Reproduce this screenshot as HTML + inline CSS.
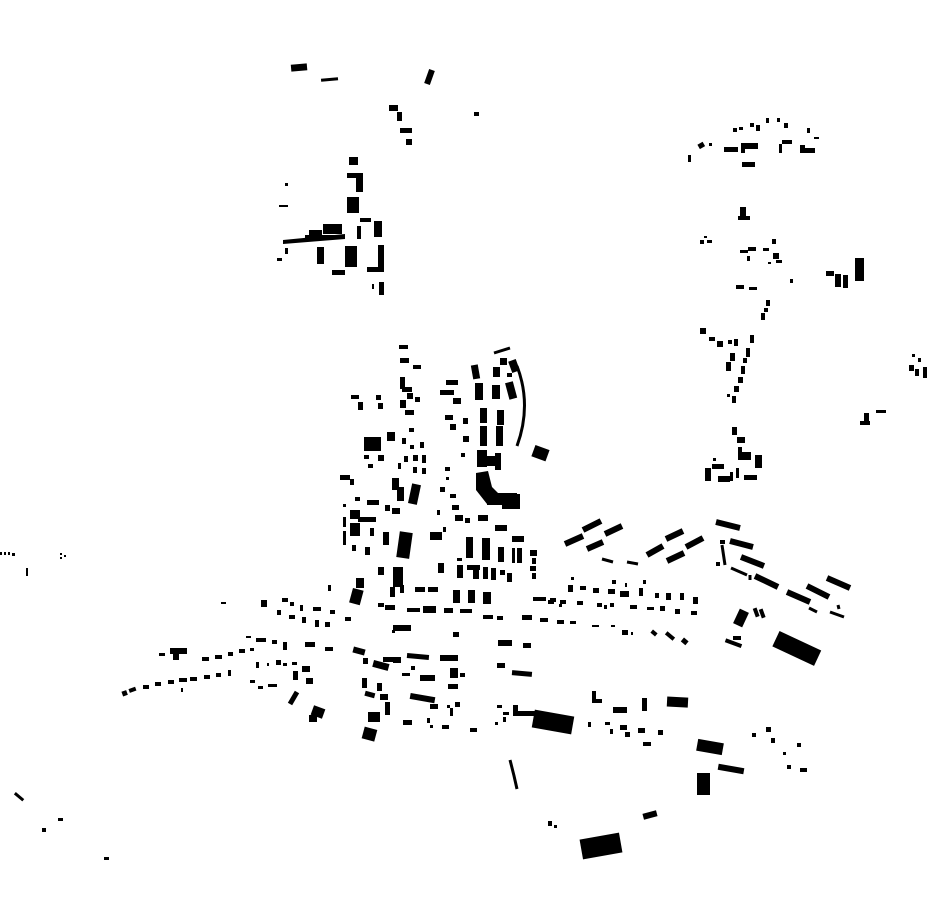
<!DOCTYPE html>
<html><head><meta charset="utf-8"><style>html,body{margin:0;padding:0;background:#fff}svg{display:block}</style></head>
<body>
<svg width="930" height="924" viewBox="0 0 930 924" xmlns="http://www.w3.org/2000/svg">
<g fill="#000">
<!-- top -->
<rect x="291" y="64" width="16" height="7" transform="rotate(-5 299 67)"/>
<rect x="321" y="78" width="17" height="3" transform="rotate(-5 329 79)"/>
<rect x="389" y="105" width="9" height="6"/><rect x="397" y="112" width="5" height="9"/>
<rect x="400" y="128" width="12" height="5"/><rect x="406" y="139" width="6" height="6"/>
<rect x="474" y="112" width="5" height="4"/>
<!-- NW cluster -->
<rect x="349" y="157" width="9" height="8"/>
<rect x="347" y="173" width="16" height="5"/><rect x="356" y="173" width="7" height="19"/>
<rect x="347" y="197" width="12" height="16"/>
<rect x="360" y="218" width="11" height="4"/>
<rect x="357" y="226" width="4" height="13"/>
<rect x="374" y="221" width="8" height="16"/>
<polygon points="283,240 345,234 345,239 283,244"/>
<rect x="309" y="230" width="13" height="7"/><rect x="323" y="224" width="19" height="10"/>
<rect x="305" y="235" width="40" height="4"/>
<rect x="317" y="247" width="7" height="17"/>
<rect x="345" y="246" width="12" height="21"/>
<rect x="332" y="270" width="13" height="5"/>
<rect x="378" y="245" width="6" height="25"/><rect x="367" y="267" width="17" height="5"/>
<rect x="379" y="282" width="5" height="13"/><rect x="372" y="284" width="2" height="5"/>
<rect x="285" y="183" width="3" height="3"/><rect x="279" y="205" width="9" height="2"/>
<rect x="277" y="258" width="5" height="3"/><rect x="285" y="248" width="3" height="6"/>
<line x1="432" y1="70" x2="427" y2="84" stroke="#000" stroke-width="6"/>
<!-- NE cluster -->
<rect x="733" y="128" width="4" height="4"/><rect x="739" y="127" width="4" height="3"/><rect x="750" y="123" width="4" height="4"/><rect x="756" y="125" width="4" height="6"/><rect x="766" y="118" width="3" height="5"/><rect x="777" y="118" width="3" height="4"/><rect x="784" y="123" width="4" height="5"/>
<rect x="807" y="128" width="3" height="5"/><rect x="814" y="137" width="5" height="2"/>
<rect x="698" y="143" width="6" height="5" transform="rotate(-30 701 145)"/><rect x="709" y="143" width="3" height="3"/>
<rect x="688" y="155" width="3" height="7"/>
<rect x="724" y="147" width="14" height="5"/><rect x="741" y="143" width="17" height="6"/><rect x="741" y="147" width="4" height="6"/>
<rect x="779" y="144" width="3" height="9"/><rect x="782" y="140" width="10" height="4"/>
<rect x="802" y="148" width="13" height="5"/><rect x="800" y="145" width="5" height="8"/>
<rect x="742" y="162" width="13" height="5"/>
<rect x="740" y="207" width="6" height="10"/><rect x="738" y="216" width="12" height="4"/>
<rect x="700" y="240" width="4" height="4"/><rect x="707" y="240" width="5" height="3"/><rect x="704" y="236" width="3" height="2"/>
<rect x="740" y="250" width="8" height="3"/><rect x="748" y="247" width="8" height="4"/><rect x="763" y="248" width="6" height="3"/><rect x="772" y="239" width="4" height="5"/><rect x="773" y="253" width="6" height="6"/><rect x="776" y="260" width="6" height="3"/><rect x="747" y="256" width="3" height="5"/><rect x="768" y="262" width="3" height="2"/>
<rect x="790" y="279" width="3" height="4"/>
<rect x="826" y="271" width="8" height="5"/><rect x="835" y="274" width="6" height="13"/><rect x="843" y="275" width="5" height="13"/><rect x="855" y="258" width="9" height="23"/>
<rect x="736" y="285" width="8" height="4"/><rect x="749" y="287" width="8" height="3"/>
<rect x="766" y="300" width="4" height="6"/><rect x="764" y="308" width="4" height="4"/><rect x="761" y="313" width="4" height="7"/>
<rect x="700" y="328" width="6" height="6"/><rect x="709" y="337" width="6" height="4"/><rect x="717" y="341" width="6" height="6"/><rect x="728" y="340" width="4" height="4"/><rect x="734" y="339" width="4" height="7"/><rect x="730" y="353" width="5" height="8"/><rect x="726" y="362" width="5" height="9"/>
<rect x="750" y="335" width="4" height="8"/><rect x="746" y="348" width="4" height="9"/><rect x="743" y="358" width="4" height="5"/><rect x="741" y="366" width="4" height="8"/><rect x="738" y="377" width="5" height="6"/><rect x="734" y="386" width="5" height="6"/><rect x="732" y="396" width="4" height="7"/><rect x="727" y="394" width="3" height="3"/>
<rect x="912" y="354" width="3" height="3"/><rect x="918" y="358" width="3" height="4"/><rect x="909" y="365" width="5" height="6"/><rect x="915" y="369" width="4" height="7"/><rect x="923" y="367" width="4" height="11"/>
<rect x="864" y="413" width="5" height="12"/><rect x="860" y="421" width="10" height="4"/><rect x="876" y="410" width="10" height="3"/>
<rect x="732" y="427" width="5" height="8"/><rect x="737" y="437" width="8" height="6"/>
<rect x="705" y="468" width="6" height="13"/><rect x="712" y="464" width="12" height="5"/><rect x="738" y="452" width="13" height="8"/><rect x="738" y="447" width="4" height="6"/><rect x="755" y="455" width="7" height="13"/><rect x="730" y="472" width="3" height="9"/><rect x="718" y="476" width="12" height="6"/><rect x="744" y="475" width="13" height="5"/><rect x="736" y="468" width="3" height="10"/><rect x="713" y="458" width="3" height="3"/>
<!-- central north -->
<rect x="399" y="345" width="9" height="4"/>
<rect x="400" y="358" width="9" height="5"/><rect x="413" y="365" width="8" height="4"/>
<rect x="400" y="377" width="5" height="12"/><rect x="402" y="387" width="10" height="5"/>
<rect x="446" y="380" width="12" height="5"/><rect x="440" y="390" width="14" height="5"/><rect x="453" y="398" width="8" height="6"/>
<line x1="494" y1="353" x2="510" y2="348" stroke="#000" stroke-width="3"/>
<rect x="500" y="358" width="7" height="7"/>
<rect x="510" y="360" width="8" height="12" transform="rotate(-20 514 366)"/>
<rect x="472" y="365" width="7" height="14" transform="rotate(-10 475 372)"/>
<rect x="493" y="367" width="7" height="10"/><rect x="507" y="373" width="5" height="4"/>
<rect x="475" y="383" width="8" height="17"/><rect x="492" y="385" width="8" height="14"/>
<rect x="507" y="382" width="8" height="17" transform="rotate(-15 511 390)"/>
<rect x="480" y="408" width="7" height="15"/><rect x="497" y="410" width="7" height="15"/>
<rect x="480" y="426" width="7" height="20"/><rect x="496" y="426" width="7" height="20"/>
<path d="M517 366 Q532 405 517 446" stroke="#000" stroke-width="3" fill="none"/>
<rect x="477" y="450" width="10" height="17"/><rect x="486" y="456" width="10" height="10"/><rect x="495" y="453" width="6" height="17"/>
<polygon points="476,473 488,471 492,487 500,495 499,504 487,504 476,490"/>
<rect x="487" y="493" width="30" height="12"/><rect x="502" y="494" width="18" height="15"/>
<rect x="533" y="447" width="15" height="12" transform="rotate(20 540 453)"/>
<rect x="351" y="395" width="8" height="4"/><rect x="358" y="402" width="5" height="8"/><rect x="376" y="395" width="5" height="5"/><rect x="378" y="403" width="5" height="6"/>
<rect x="400" y="400" width="6" height="8"/><rect x="407" y="393" width="6" height="6"/><rect x="415" y="397" width="5" height="5"/><rect x="405" y="410" width="9" height="5"/>
<rect x="445" y="415" width="8" height="5"/><rect x="450" y="424" width="6" height="6"/><rect x="463" y="418" width="5" height="6"/><rect x="463" y="436" width="6" height="6"/><rect x="461" y="453" width="4" height="4"/>
<rect x="364" y="437" width="17" height="14"/><rect x="387" y="432" width="8" height="9"/>
<rect x="364" y="455" width="5" height="4"/><rect x="368" y="464" width="5" height="4"/><rect x="378" y="455" width="6" height="6"/>
<rect x="402" y="438" width="4" height="6"/><rect x="410" y="445" width="4" height="4"/><rect x="420" y="442" width="4" height="6"/><rect x="404" y="456" width="4" height="6"/><rect x="413" y="455" width="5" height="6"/><rect x="422" y="455" width="4" height="8"/><rect x="413" y="467" width="4" height="6"/><rect x="422" y="468" width="4" height="6"/><rect x="409" y="428" width="5" height="4"/><rect x="398" y="463" width="3" height="6"/>
<rect x="392" y="478" width="7" height="12"/><rect x="397" y="487" width="7" height="14"/>
<rect x="410" y="484" width="9" height="20" transform="rotate(12 414 494)"/>
<rect x="340" y="475" width="10" height="5"/><rect x="350" y="479" width="4" height="6"/>
<rect x="355" y="497" width="5" height="4"/><rect x="367" y="500" width="12" height="5"/><rect x="385" y="505" width="5" height="6"/><rect x="392" y="508" width="8" height="6"/>
<rect x="445" y="467" width="5" height="4"/><rect x="446" y="477" width="3" height="3"/><rect x="440" y="487" width="5" height="5"/><rect x="450" y="494" width="6" height="4"/><rect x="452" y="505" width="7" height="5"/><rect x="437" y="510" width="3" height="5"/><rect x="455" y="515" width="8" height="6"/><rect x="465" y="518" width="5" height="5"/><rect x="478" y="515" width="10" height="6"/><rect x="443" y="527" width="3" height="5"/><rect x="430" y="532" width="12" height="8"/>
<rect x="343" y="504" width="3" height="3"/><rect x="350" y="510" width="10" height="9"/><rect x="358" y="517" width="18" height="5"/>
<rect x="343" y="517" width="3" height="10"/><rect x="350" y="523" width="10" height="13"/><rect x="343" y="531" width="3" height="14"/><rect x="352" y="545" width="4" height="6"/>
<rect x="370" y="528" width="4" height="8"/><rect x="365" y="547" width="5" height="8"/><rect x="383" y="532" width="6" height="13"/>
<rect x="398" y="532" width="13" height="26" transform="rotate(8 404 545)"/>
<rect x="466" y="537" width="7" height="21"/><rect x="482" y="538" width="8" height="22"/><rect x="498" y="547" width="6" height="15"/><rect x="512" y="548" width="3" height="15"/><rect x="517" y="548" width="5" height="15"/>
<rect x="530" y="550" width="7" height="6"/><rect x="532" y="558" width="4" height="6"/><rect x="530" y="566" width="6" height="5"/><rect x="532" y="573" width="4" height="6"/>
<rect x="495" y="525" width="12" height="6"/><rect x="512" y="536" width="12" height="6"/>
<rect x="457" y="558" width="5" height="3"/><rect x="457" y="565" width="6" height="13"/><rect x="467" y="565" width="13" height="5"/><rect x="473" y="570" width="6" height="9"/><rect x="483" y="567" width="5" height="12"/><rect x="491" y="568" width="5" height="12"/><rect x="500" y="570" width="5" height="5"/><rect x="507" y="573" width="5" height="9"/>
<rect x="438" y="563" width="6" height="10"/><rect x="378" y="567" width="6" height="8"/><rect x="393" y="567" width="10" height="20"/>
<rect x="390" y="587" width="5" height="10"/><rect x="400" y="585" width="4" height="8"/>
<rect x="356" y="578" width="8" height="10"/><rect x="351" y="589" width="11" height="15" transform="rotate(15 356 596)"/>
<rect x="328" y="585" width="3" height="6"/>
<rect x="415" y="587" width="10" height="5"/><rect x="428" y="587" width="10" height="5"/>
<rect x="453" y="590" width="7" height="13"/><rect x="468" y="590" width="7" height="13"/><rect x="483" y="592" width="8" height="12"/>
<rect x="378" y="603" width="6" height="4"/><rect x="385" y="605" width="10" height="5"/><rect x="407" y="608" width="13" height="4"/><rect x="423" y="606" width="13" height="7"/><rect x="444" y="608" width="9" height="5"/><rect x="460" y="609" width="12" height="4"/><rect x="483" y="615" width="10" height="4"/><rect x="497" y="616" width="6" height="4"/>
<rect x="522" y="615" width="10" height="5"/><rect x="540" y="618" width="7" height="4"/><rect x="557" y="620" width="7" height="4"/><rect x="570" y="621" width="6" height="3"/><rect x="592" y="625" width="6" height="2"/><rect x="622" y="630" width="6" height="5"/>
<rect x="533" y="597" width="8" height="4"/><rect x="548" y="600" width="6" height="4"/>
<!-- west row -->
<rect x="221" y="602" width="5" height="2"/><rect x="261" y="600" width="6" height="7"/>
<rect x="282" y="598" width="6" height="4"/><rect x="290" y="602" width="4" height="4"/>
<rect x="277" y="610" width="4" height="5"/><rect x="289" y="615" width="6" height="4"/><rect x="300" y="605" width="3" height="6"/><rect x="313" y="607" width="8" height="4"/><rect x="330" y="610" width="5" height="4"/><rect x="345" y="617" width="6" height="4"/>
<rect x="302" y="617" width="4" height="6"/><rect x="315" y="620" width="4" height="7"/><rect x="325" y="622" width="5" height="5"/>
<rect x="159" y="653" width="6" height="3"/><rect x="170" y="648" width="17" height="6"/><rect x="173" y="652" width="6" height="8"/>
<rect x="122" y="691" width="5" height="5" transform="rotate(-20 124 693)"/><rect x="129" y="688" width="7" height="4" transform="rotate(-20 132 690)"/><rect x="143" y="685" width="6" height="4"/><rect x="155" y="682" width="6" height="4"/><rect x="168" y="680" width="6" height="4"/><rect x="179" y="678" width="8" height="4"/><rect x="190" y="677" width="7" height="4"/><rect x="204" y="675" width="6" height="4"/><rect x="216" y="673" width="5" height="4"/><rect x="228" y="670" width="3" height="6"/>
<rect x="181" y="688" width="2" height="4"/>
<rect x="202" y="657" width="7" height="4"/><rect x="215" y="655" width="7" height="4"/><rect x="228" y="652" width="5" height="4"/><rect x="239" y="649" width="6" height="4"/><rect x="250" y="648" width="4" height="3"/>
<rect x="246" y="636" width="5" height="2"/><rect x="256" y="638" width="10" height="4"/><rect x="272" y="640" width="5" height="4"/><rect x="283" y="642" width="4" height="8"/>
<rect x="305" y="642" width="10" height="5"/><rect x="325" y="647" width="8" height="4"/>
<rect x="256" y="662" width="3" height="6"/><rect x="267" y="663" width="2" height="3"/><rect x="276" y="660" width="5" height="5"/><rect x="283" y="663" width="4" height="3"/><rect x="292" y="662" width="5" height="3"/><rect x="293" y="671" width="5" height="9"/><rect x="302" y="666" width="8" height="6"/><rect x="306" y="678" width="7" height="6"/>
<rect x="250" y="680" width="5" height="3"/><rect x="258" y="686" width="5" height="3"/><rect x="268" y="684" width="9" height="3"/>
<line x1="297" y1="692" x2="290" y2="704" stroke="#000" stroke-width="5"/>
<rect x="312" y="707" width="12" height="10" transform="rotate(20 318 712)"/><rect x="309" y="715" width="8" height="7"/>
<rect x="14" y="795" width="11" height="3" transform="rotate(40 19 796)"/>
<rect x="42" y="828" width="4" height="4"/><rect x="58" y="818" width="5" height="3"/><rect x="104" y="857" width="5" height="3"/>
<rect x="0" y="552" width="2" height="3"/><rect x="4" y="552" width="2" height="3"/><rect x="8" y="552" width="2" height="3"/><rect x="12" y="553" width="3" height="3"/>
<rect x="26" y="568" width="2" height="8"/><rect x="60" y="553" width="2" height="2"/><rect x="64" y="555" width="2" height="2"/><rect x="60" y="557" width="2" height="2"/>
<!-- south middle -->
<rect x="393" y="625" width="18" height="6"/><rect x="392" y="630" width="3" height="3"/>
<rect x="453" y="632" width="6" height="5"/>
<rect x="498" y="640" width="14" height="6"/><rect x="523" y="643" width="8" height="5"/>
<rect x="497" y="663" width="8" height="5"/><rect x="512" y="671" width="20" height="5" transform="rotate(5 522 673)"/>
<rect x="407" y="654" width="22" height="5" transform="rotate(5 418 656)"/><rect x="440" y="655" width="18" height="6"/>
<rect x="353" y="648" width="12" height="6" transform="rotate(15 359 651)"/><rect x="363" y="658" width="5" height="6"/>
<rect x="373" y="662" width="16" height="7" transform="rotate(15 381 665)"/><rect x="383" y="657" width="10" height="5"/><rect x="393" y="657" width="8" height="6"/>
<rect x="411" y="666" width="4" height="4"/><rect x="402" y="673" width="8" height="3"/><rect x="420" y="675" width="15" height="6"/>
<rect x="450" y="668" width="8" height="10"/><rect x="460" y="673" width="5" height="4"/><rect x="448" y="684" width="10" height="5"/>
<rect x="362" y="678" width="5" height="10"/><rect x="377" y="683" width="5" height="8"/>
<rect x="365" y="692" width="10" height="5" transform="rotate(15 370 694)"/><rect x="380" y="694" width="8" height="6"/><rect x="385" y="702" width="5" height="13"/>
<rect x="368" y="712" width="12" height="10"/><rect x="363" y="728" width="13" height="12" transform="rotate(15 369 734)"/>
<rect x="410" y="695" width="25" height="6" transform="rotate(10 422 698)"/><rect x="430" y="704" width="8" height="5"/>
<rect x="447" y="705" width="3" height="3"/><rect x="450" y="708" width="3" height="8"/><rect x="455" y="702" width="5" height="5"/>
<rect x="403" y="720" width="9" height="5"/><rect x="427" y="718" width="3" height="5"/><rect x="430" y="725" width="3" height="3"/><rect x="442" y="725" width="7" height="4"/><rect x="470" y="728" width="7" height="4"/>
<rect x="497" y="705" width="5" height="3"/><rect x="503" y="712" width="6" height="3"/><rect x="503" y="717" width="3" height="5"/><rect x="495" y="722" width="3" height="3"/>
<rect x="513" y="705" width="5" height="7"/><rect x="513" y="711" width="22" height="5"/>
<rect x="533" y="713" width="40" height="18" transform="rotate(10 553 722)"/>
<rect x="592" y="691" width="4" height="11"/><rect x="592" y="699" width="10" height="4"/>
<rect x="613" y="707" width="14" height="6"/><rect x="642" y="698" width="5" height="13"/><rect x="667" y="697" width="21" height="10" transform="rotate(3 677 702)"/>
<rect x="588" y="722" width="3" height="5"/><rect x="605" y="722" width="5" height="3"/><rect x="620" y="725" width="7" height="5"/><rect x="610" y="729" width="3" height="5"/><rect x="625" y="732" width="5" height="5"/><rect x="638" y="728" width="7" height="5"/><rect x="658" y="730" width="5" height="5"/><rect x="643" y="742" width="8" height="4"/>
<!-- east row houses -->
<rect x="568" y="585" width="5" height="7"/><rect x="580" y="586" width="6" height="4"/><rect x="593" y="588" width="6" height="5"/><rect x="608" y="589" width="7" height="5"/><rect x="620" y="591" width="9" height="6"/><rect x="639" y="588" width="4" height="8"/><rect x="655" y="593" width="4" height="5"/><rect x="666" y="593" width="5" height="7"/><rect x="680" y="593" width="4" height="7"/><rect x="693" y="597" width="5" height="7"/>
<rect x="571" y="577" width="3" height="3"/><rect x="612" y="580" width="4" height="4"/><rect x="625" y="583" width="2" height="4"/><rect x="643" y="580" width="3" height="4"/>
<rect x="540" y="597" width="6" height="4"/><rect x="550" y="598" width="6" height="4"/><rect x="560" y="600" width="6" height="4"/><rect x="559" y="604" width="3" height="3"/><rect x="577" y="601" width="6" height="4"/><rect x="597" y="603" width="5" height="4"/><rect x="604" y="605" width="3" height="4"/><rect x="610" y="603" width="4" height="4"/><rect x="630" y="605" width="7" height="4"/><rect x="647" y="607" width="7" height="3"/><rect x="660" y="606" width="5" height="5"/><rect x="675" y="609" width="5" height="5"/><rect x="691" y="611" width="6" height="4"/>
<rect x="540" y="618" width="8" height="4"/><rect x="558" y="620" width="6" height="4"/><rect x="571" y="621" width="5" height="3"/><rect x="592" y="625" width="7" height="2"/><rect x="611" y="625" width="4" height="2"/><rect x="623" y="630" width="4" height="5"/><rect x="631" y="632" width="2" height="3"/>
<rect x="651" y="631" width="6" height="4" transform="rotate(40 654 633)"/><rect x="665" y="634" width="10" height="4" transform="rotate(40 670 636)"/><rect x="682" y="639" width="6" height="5" transform="rotate(40 685 641)"/>
<g stroke="#000" stroke-width="6" fill="none">
<line x1="565" y1="544" x2="583" y2="536"/><line x1="583" y1="530" x2="601" y2="521"/><line x1="587" y1="549" x2="603" y2="542"/><line x1="605" y1="534" x2="622" y2="526"/>
<line x1="647" y1="555" x2="663" y2="546"/><line x1="666" y1="539" x2="683" y2="531"/><line x1="667" y1="561" x2="684" y2="553"/><line x1="686" y1="547" x2="703" y2="538"/>
<line x1="716" y1="522" x2="740" y2="528"/><line x1="730" y1="541" x2="753" y2="547"/><line x1="741" y1="557" x2="764" y2="566"/>
<line x1="755" y1="576" x2="778" y2="587"/><line x1="787" y1="592" x2="810" y2="602"/><line x1="807" y1="586" x2="829" y2="597"/><line x1="827" y1="578" x2="850" y2="588"/>
</g>
<g stroke="#000" stroke-width="3" fill="none">
<line x1="602" y1="559" x2="613" y2="562"/><line x1="627" y1="562" x2="638" y2="564"/>
<line x1="731" y1="568" x2="747" y2="575"/><line x1="809" y1="608" x2="817" y2="612"/><line x1="830" y1="612" x2="844" y2="617"/>
<line x1="722" y1="545" x2="725" y2="565"/><line x1="838" y1="605" x2="839" y2="609"/>
<line x1="750" y1="575" x2="750" y2="580"/>
<path d="M510 760 Q514 775 517 789"/>
</g>
<rect x="720" y="540" width="5" height="4"/><rect x="716" y="562" width="4" height="4"/>
<rect x="774" y="640" width="46" height="17" transform="rotate(25 797 648)"/>
<rect x="736" y="610" width="10" height="16" transform="rotate(25 741 618)"/>
<rect x="754" y="608" width="4" height="9" transform="rotate(-20 756 612)"/><rect x="760" y="609" width="4" height="9" transform="rotate(-20 762 613)"/>
<rect x="725" y="641" width="17" height="4" transform="rotate(20 733 643)"/><rect x="733" y="636" width="8" height="4"/>
<!-- bottom -->
<rect x="697" y="741" width="26" height="12" transform="rotate(10 710 747)"/>
<rect x="697" y="773" width="13" height="22"/>
<rect x="718" y="766" width="26" height="6" transform="rotate(10 731 769)"/>
<rect x="752" y="733" width="4" height="4"/><rect x="766" y="727" width="5" height="5"/><rect x="771" y="738" width="4" height="5"/><rect x="797" y="743" width="4" height="4"/><rect x="787" y="765" width="4" height="4"/><rect x="800" y="768" width="7" height="4"/><rect x="783" y="752" width="3" height="3"/>
<rect x="548" y="821" width="4" height="5"/><rect x="554" y="825" width="3" height="3"/>
<rect x="581" y="836" width="40" height="20" transform="rotate(-10 601 846)"/>
<rect x="643" y="812" width="14" height="6" transform="rotate(-15 650 815)"/>
</g>
</svg>
</body></html>
